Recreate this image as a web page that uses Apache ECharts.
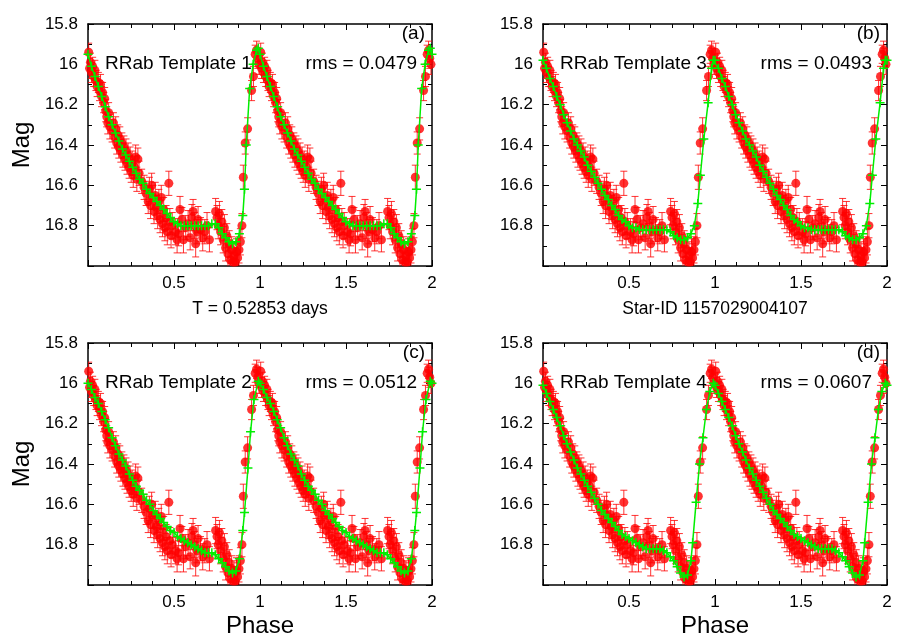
<!DOCTYPE html>
<html><head><meta charset="utf-8">
<script src="https://cdn.jsdelivr.net/npm/echarts@6/dist/echarts.min.js"></script>
<style>html,body{margin:0;padding:0;background:#fff}#c{width:897px;height:639px}</style>
</head><body><div id="c"></div>
<script>
// ---------- data ----------
const obsPhase = [0.004,0.009,0.014,0.020,0.027,0.033,0.040,0.046,0.053,0.060,0.067,0.073,0.079,0.085,0.091,0.097,0.103,0.109,0.115,0.120,
  0.127,0.140,0.148,0.155,0.161,0.167,0.173,0.179,0.185,0.191,0.197,0.203,0.209,0.215,0.221,0.227,0.233,0.239,0.245,0.251,
  0.257,0.263,0.270,0.277,0.284,0.290,0.297,0.312,0.326,0.338,0.350,0.357,0.364,0.370,0.377,0.384,0.391,0.398,0.405,0.412,
  0.419,0.426,0.433,0.440,0.447,0.454,0.461,0.470,0.476,0.483,0.490,0.508,0.518,0.527,0.535,0.546,0.555,0.568,0.582,0.594,
  0.604,0.611,0.619,0.626,0.633,0.640,0.654,0.667,0.679,0.692,0.706,0.742,0.750,0.757,0.764,0.771,0.778,0.786,0.793,0.800,
  0.807,0.814,0.821,0.828,0.835,0.842,0.849,0.856,0.863,0.870,0.878,0.886,0.895,0.903,0.914,0.928,0.951,0.962,0.972,0.980,
  0.987,0.994];
const obsMag = [15.94,16.02,15.99,16.04,16.01,16.06,16.03,16.08,16.11,16.09,16.13,16.10,16.16,16.14,16.19,16.17,16.23,16.26,16.29,16.24,
  16.31,16.33,16.29,16.36,16.32,16.39,16.35,16.41,16.37,16.43,16.39,16.45,16.41,16.47,16.43,16.49,16.45,16.51,16.47,16.53,
  16.49,16.55,16.51,16.46,16.57,16.47,16.54,16.58,16.61,16.64,16.68,16.62,16.70,16.60,16.66,16.73,16.65,16.71,16.75,16.68,
  16.77,16.66,16.79,16.72,16.81,16.76,16.83,16.59,16.78,16.85,16.80,16.83,16.87,16.84,16.72,16.77,16.87,16.81,16.79,16.86,
  16.76,16.73,16.80,16.89,16.83,16.77,16.82,16.86,16.83,16.80,16.87,16.73,16.76,16.80,16.74,16.83,16.78,16.87,16.81,16.91,
  16.85,16.94,16.89,16.97,16.92,16.98,16.95,16.98,16.93,16.96,16.92,16.88,16.80,16.56,16.39,16.32,16.13,16.06,15.95,15.93,
  15.97,16.00];
const obsErr = [0.045,0.05,0.045,0.05,0.045,0.05,0.05,0.05,0.05,0.05,0.05,0.05,0.05,0.05,0.05,0.055,0.055,0.05,0.055,0.05,
  0.06,0.055,0.05,0.055,0.06,0.055,0.05,0.055,0.06,0.055,0.05,0.06,0.055,0.055,0.06,0.055,0.06,0.055,0.06,0.055,
  0.06,0.06,0.055,0.06,0.06,0.055,0.06,0.06,0.06,0.06,0.06,0.06,0.065,0.06,0.06,0.06,0.065,0.06,0.065,0.06,
  0.065,0.06,0.065,0.06,0.065,0.06,0.065,0.06,0.065,0.06,0.065,0.065,0.065,0.06,0.065,0.06,0.065,0.06,0.065,0.06,
  0.065,0.06,0.065,0.065,0.06,0.065,0.06,0.065,0.06,0.065,0.06,0.065,0.06,0.065,0.06,0.065,0.06,0.065,0.065,0.065,
  0.06,0.07,0.065,0.07,0.065,0.07,0.07,0.07,0.065,0.07,0.065,0.065,0.06,0.06,0.055,0.055,0.05,0.05,0.045,0.045,
  0.05,0.05];

const tpl1Phase = [0,0.02,0.04,0.06,0.08,0.10,0.12,0.14,0.16,0.18,0.20,0.22,0.24,0.26,0.28,0.30,0.32,0.34,0.36,0.38,0.40,0.42,0.44,0.46,0.48,
  0.50,0.52,0.54,0.56,0.58,0.60,0.62,0.64,0.66,0.68,0.70,0.72,0.74,0.76,0.78,0.80,0.82,0.84,0.86,0.88,0.90,0.91,0.92,0.94,0.96,0.98,0.99];
const tpl1Mag = [15.95,16.01,16.06,16.11,16.16,16.21,16.26,16.30,16.34,16.38,16.42,16.45,16.48,16.51,16.54,16.57,16.59,16.62,16.64,16.66,16.68,16.70,16.72,16.74,16.76,
  16.78,16.79,16.80,16.80,16.80,16.80,16.80,16.80,16.80,16.80,16.80,16.79,16.79,16.81,16.84,16.86,16.88,16.89,16.88,16.84,16.75,16.62,16.40,16.12,16.00,15.93,15.92];

const tpl3Phase = [0,0.02,0.04,0.06,0.08,0.10,0.12,0.14,0.16,0.18,0.20,0.22,0.24,0.26,0.28,0.30,0.32,0.34,0.36,0.38,0.40,0.42,0.44,0.46,0.48,
  0.50,0.52,0.54,0.56,0.58,0.60,0.62,0.64,0.66,0.68,0.70,0.72,0.74,0.76,0.78,0.80,0.82,0.84,0.86,0.88,0.90,0.915,0.935,0.96,0.98,0.99];
const tpl3Mag = [15.98,16.02,16.07,16.11,16.16,16.20,16.25,16.29,16.33,16.37,16.40,16.43,16.46,16.50,16.53,16.56,16.59,16.62,16.65,16.67,16.70,16.72,16.75,16.77,16.78,
  16.80,16.81,16.81,16.82,16.82,16.82,16.82,16.82,16.82,16.82,16.82,16.82,16.83,16.85,16.86,16.87,16.87,16.86,16.84,16.80,16.69,16.55,16.37,16.19,16.02,15.98];

const tpl2Phase = [0,0.02,0.04,0.06,0.08,0.10,0.12,0.14,0.16,0.18,0.20,0.22,0.24,0.26,0.28,0.30,0.32,0.34,0.36,0.38,0.40,0.42,0.44,0.46,0.48,
  0.50,0.52,0.54,0.56,0.58,0.60,0.62,0.64,0.66,0.68,0.70,0.72,0.74,0.76,0.78,0.80,0.82,0.84,0.86,0.88,0.90,0.91,0.93,0.945,0.965,0.99];
const tpl2Mag = [16.00,16.03,16.07,16.10,16.14,16.18,16.22,16.27,16.31,16.35,16.38,16.41,16.45,16.48,16.51,16.53,16.55,16.58,16.60,16.63,16.65,16.67,16.69,16.71,16.73,
  16.74,16.76,16.77,16.78,16.79,16.80,16.81,16.82,16.83,16.84,16.84,16.84,16.85,16.87,16.89,16.91,16.93,16.94,16.93,16.87,16.73,16.64,16.42,16.24,16.08,15.99];

const tpl4Phase = [0,0.02,0.04,0.06,0.08,0.10,0.12,0.14,0.16,0.18,0.20,0.22,0.24,0.26,0.28,0.30,0.32,0.34,0.36,0.38,0.40,0.42,0.44,0.46,0.48,
  0.50,0.52,0.54,0.56,0.58,0.60,0.62,0.64,0.66,0.68,0.70,0.72,0.74,0.76,0.78,0.80,0.82,0.84,0.86,0.87,0.89,0.91,0.93,0.95,0.97,0.99];
const tpl4Mag = [16.01,16.05,16.09,16.13,16.17,16.21,16.26,16.30,16.34,16.38,16.42,16.45,16.48,16.51,16.54,16.57,16.60,16.63,16.65,16.67,16.69,16.71,16.73,16.75,16.76,
  16.77,16.78,16.79,16.80,16.81,16.82,16.82,16.82,16.82,16.82,16.83,16.84,16.86,16.88,16.91,16.94,16.96,16.95,16.88,16.79,16.59,16.40,16.27,16.13,16.04,16.00];

const templateLabels = ['RRab Template 1','RRab Template 3','RRab Template 2','RRab Template 4'];
const rmsLabels = ['rms = 0.0479','rms = 0.0493','rms = 0.0512','rms = 0.0607'];
const panelTags = ['(a)','(b)','(c)','(d)'];
const xNames = ['T = 0.52853 days','Star-ID 1157029004107','Phase','Phase'];
const yNames = ['Mag','','Mag',''];
const xMin = 0, xMax = 2, xInterval = 0.5;
const yMin = 15.8, yMax = 17.0, yInterval = 0.2;

// ---------- layout ----------
const FONT = 'Liberation Sans, Arial, Helvetica, sans-serif';
const templates = [[tpl1Phase,tpl1Mag],[tpl3Phase,tpl3Mag],[tpl2Phase,tpl2Mag],[tpl4Phase,tpl4Mag]];
const grids = [{left:88,top:24},{left:543,top:24},{left:88,top:343},{left:543,top:343}];
const GW = 344, GH = 242;

const obsData = [];
for (let c = 0; c < 2; c++) for (let i = 0; i < obsPhase.length; i++) obsData.push([obsPhase[i] + c, obsMag[i], obsErr[i]]);

const option = {
  animation: false,
  backgroundColor: '#fff',
  grid: grids.map(g => ({left:g.left, top:g.top, width:GW, height:GH, containLabel:false})),
  xAxis: [], yAxis: [], series: [], graphic: []
};

const plusSym = 'path://M0,5L10,5M5,0L5,10';

grids.forEach((g, i) => {
  const big = i >= 2;
  const axLine = {show:true, onZero:false, lineStyle:{color:'#000', width:1.5}};
  const tick = {show:true, inside:true, length:6, lineStyle:{color:'#000', width:1}};
  option.xAxis.push({
    type:'value', gridIndex:i, position:'bottom', min:xMin, max:xMax, interval:xInterval,
    axisLine:axLine, axisTick:tick,
    minorTick:{show:true, splitNumber:4, length:4, lineStyle:{color:'#000', width:1}},
    splitLine:{show:false}, minorSplitLine:{show:false},
    axisLabel:{color:'#000', fontSize:17, fontFamily:FONT, margin:9, formatter:v => v === 0 ? '' : String(v)},
    name:xNames[i], nameLocation:'middle', nameGap: big ? 29 : 34,
    nameTextStyle:{color:'#000', fontSize: big ? 24 : 17.5, fontFamily:FONT}
  });
  option.xAxis.push({
    type:'value', gridIndex:i, position:'top', min:xMin, max:xMax, interval:xInterval,
    axisLine:axLine, axisTick:tick,
    minorTick:{show:true, splitNumber:4, length:4, lineStyle:{color:'#000', width:1}},
    splitLine:{show:false}, axisLabel:{show:false}
  });
  option.yAxis.push({
    type:'value', gridIndex:i, position:'left', min:yMin, max:yMax, interval:yInterval, inverse:true,
    axisLine:axLine, axisTick:tick,
    minorTick:{show:true, splitNumber:2, length:4, lineStyle:{color:'#000', width:1}},
    splitLine:{show:false},
    axisLabel:{color:'#000', fontSize:17, fontFamily:FONT, margin:10, showMaxLabel:false},
    name:yNames[i], nameLocation:'middle', nameGap:54, nameRotate:90,
    nameTextStyle:{color:'#000', fontSize:24, fontFamily:FONT}
  });
  option.yAxis.push({
    type:'value', gridIndex:i, position:'right', min:yMin, max:yMax, interval:yInterval, inverse:true,
    axisLine:axLine, axisTick:tick,
    minorTick:{show:true, splitNumber:2, length:4, lineStyle:{color:'#000', width:1}},
    splitLine:{show:false}, axisLabel:{show:false}
  });

  // error bars
  option.series.push({
    type:'custom', xAxisIndex:2*i, yAxisIndex:2*i, z:2, data:obsData,
    renderItem: function (params, api) {
      const x = api.value(0), y = api.value(1), e = api.value(2);
      const cs = params.coordSys;
      const p1 = api.coord([x, y - e]), p2 = api.coord([x, y + e]);
      const px = p1[0];
      if (px < cs.x - 0.5 || px > cs.x + cs.width + 0.5) return null;
      const ya = Math.min(p1[1], p2[1]), yb = Math.max(p1[1], p2[1]);
      const top = cs.y, bot = cs.y + cs.height;
      const y0 = Math.max(top, ya), y1 = Math.min(bot, yb);
      const children = [];
      const st = {stroke:'rgba(255,0,0,0.8)', lineWidth:1};
      if (y1 > y0) children.push({type:'line', shape:{x1:px, y1:y0, x2:px, y2:y1}, style:st});
      const hw = 3.5;
      const l = Math.max(cs.x, px - hw), r = Math.min(cs.x + cs.width, px + hw);
      if (ya >= top && ya <= bot) children.push({type:'line', shape:{x1:l, y1:ya, x2:r, y2:ya}, style:st});
      if (yb >= top && yb <= bot) children.push({type:'line', shape:{x1:l, y1:yb, x2:r, y2:yb}, style:st});
      return {type:'group', children};
    }
  });
  // points
  option.series.push({
    type:'scatter', xAxisIndex:2*i, yAxisIndex:2*i, z:3, symbol:'circle', symbolSize:9,
    itemStyle:{color:'#ff0000'}, data:obsData.map(d => [d[0], d[1]])
  });
  // template
  const [tp, tm] = templates[i];
  const tdata = [];
  for (let c = 0; c < 2; c++) for (let k = 0; k < tp.length; k++) tdata.push([tp[k] + c, tm[k]]);
  tdata.push([xMax, tm[0]]);
  option.series.push({
    type:'line', xAxisIndex:2*i, yAxisIndex:2*i, z:4, data:tdata,
    lineStyle:{color:'#00ee00', width:1.5},
    symbol:plusSym, symbolSize:9, showSymbol:true,
    itemStyle:{color:'#00ee00', borderColor:'#00ee00', borderWidth:1.5}
  });

  const tf = '19px ' + FONT;
  option.graphic.push({type:'text', z:100, x:g.left + 17, y:g.top + 40,
    style:{text:templateLabels[i], font:tf, fill:'#000', align:'left', verticalAlign:'middle'}});
  option.graphic.push({type:'text', z:100, x:g.left + 329, y:g.top + 40,
    style:{text:rmsLabels[i], font:tf, fill:'#000', align:'right', verticalAlign:'middle'}});
  option.graphic.push({type:'text', z:100, x:g.left + 337, y:g.top + 10,
    style:{text:panelTags[i], font:tf, fill:'#000', align:'right', verticalAlign:'middle'}});
});

const chart = echarts.init(document.getElementById('c'), null, {renderer:'canvas'});
chart.setOption(option);
</script></body></html>
